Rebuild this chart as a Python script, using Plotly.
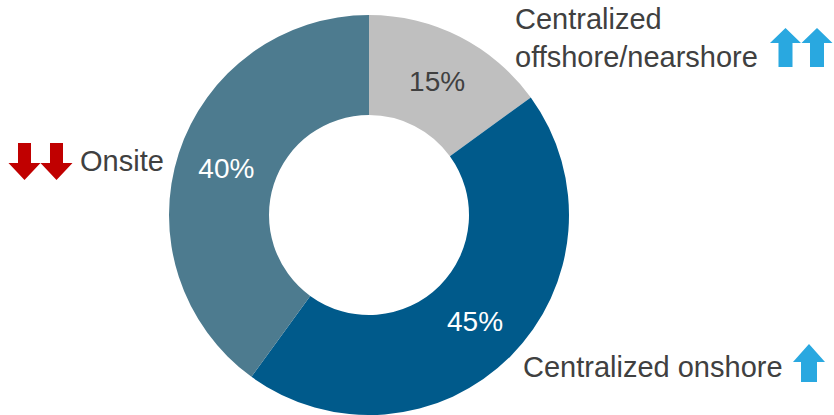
import plotly.graph_objects as go

# Delivery model mix
categories = ["Centralized offshore/nearshore", "Centralized onshore", "Onsite"]
shares = [15, 45, 40]
slice_colors = ["#bfbfbf", "#005a8b", "#4d7b8f"]
label_colors = ["#404040", "#ffffff", "#ffffff"]

W, H = 834, 415
TEXT = "#404040"
FONT = "Arial, Liberation Sans, sans-serif"


def px(x, y):
    """Pixel position -> paper coordinates (no margins)."""
    return x / W, 1 - y / H


def arrow_path(cx, top, head_base, bottom, head_w, shaft_w, up=True):
    hw, sw = head_w / 2, shaft_w / 2
    if up:
        pts = [(cx, top), (cx + hw, head_base), (cx + sw, head_base), (cx + sw, bottom),
               (cx - sw, bottom), (cx - sw, head_base), (cx - hw, head_base)]
    else:
        pts = [(cx - sw, top), (cx + sw, top), (cx + sw, head_base), (cx + hw, head_base),
               (cx, bottom), (cx - hw, head_base), (cx - sw, head_base)]
    conv = [px(x, y) for x, y in pts]
    return "M " + " L ".join(f"{a:.5f},{b:.5f}" for a, b in conv) + " Z"


fig = go.Figure(
    go.Pie(
        labels=categories,
        values=shares,
        sort=False,
        direction="clockwise",
        rotation=0,
        hole=0.5,
        marker=dict(colors=slice_colors, line=dict(width=0)),
        textinfo="percent",
        texttemplate="%{value}%",
        textposition="inside",
        insidetextorientation="horizontal",
        insidetextfont=dict(family=FONT, size=28, color=label_colors),
        domain=dict(x=[169 / W, 569 / W], y=[0, 1 - 15 / H]),
        showlegend=False,
        hoverinfo="label+percent",
    )
)

up_blue = "#29a8e0"
down_red = "#c00000"
shapes = []
for cx in (24.5, 56.5):
    shapes.append(dict(type="path", xref="paper", yref="paper",
                       path=arrow_path(cx, 143, 163, 180, 32, 13, up=False),
                       fillcolor=down_red, line=dict(width=0)))
for cx in (785.5, 817):
    shapes.append(dict(type="path", xref="paper", yref="paper",
                       path=arrow_path(cx, 28, 43, 67, 31, 14, up=True),
                       fillcolor=up_blue, line=dict(width=0)))
shapes.append(dict(type="path", xref="paper", yref="paper",
                   path=arrow_path(809, 344, 362, 382, 32, 16, up=True),
                   fillcolor=up_blue, line=dict(width=0)))

annotations = []
for text, x, y in [
    ("Centralized<br>offshore/nearshore", 513, 38),
    ("Onsite", 78, 161),
    ("Centralized onshore", 521, 367),
]:
    ax, ay = px(x, y)
    annotations.append(dict(text=text, x=ax, y=ay, xref="paper", yref="paper",
                            xanchor="left", yanchor="middle", align="left",
                            showarrow=False,
                            font=dict(family=FONT, size=29, color=TEXT)))

fig.update_layout(
    width=W, height=H,
    margin=dict(l=0, r=0, t=0, b=0),
    paper_bgcolor="white",
    plot_bgcolor="white",
    shapes=shapes,
    annotations=annotations,
)

fig.write_html("out.html")
